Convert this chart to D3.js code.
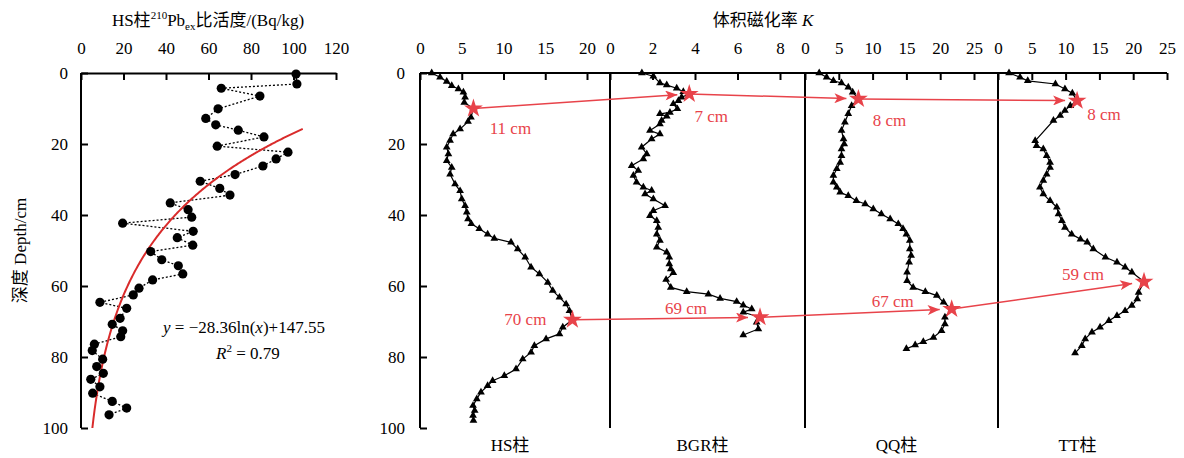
<!DOCTYPE html>
<html>
<head>
<meta charset="utf-8">
<script src="https://cdn.jsdelivr.net/npm/d3@7"></script>
<style>
  body { margin: 0; background: #fff; }
  text { font-family: "Liberation Serif", "Times New Roman", "Noto Sans CJK SC", serif; fill: #000; }
</style>
</head>
<body>
<svg id="chart" width="1184" height="458"></svg>
<script>
// ---- 210Pb excess activity, HS core ----
const pbDepth = [0.3, 3.1, 4.3, 6.5, 10.1, 12.8, 14.6, 16.1, 18.0, 20.6, 22.3, 24.2, 26.2, 28.6, 30.5, 32.5,
  34.4, 36.6, 38.5, 40.6, 42.3, 44.6, 46.4, 48.5, 50.3, 52.6, 54.3, 56.6, 58.3, 60.6, 62.5, 64.6, 66.3,
  69.1, 70.8, 72.6, 74.3, 76.4, 78.2, 80.6, 82.7, 84.6, 86.3, 88.4, 90.2, 92.5, 94.4, 96.3];
const pbValue = [101.2, 101.6, 66.0, 84.2, 64.5, 58.7, 63.4, 74.0, 86.1, 64.1, 97.4, 91.8, 85.6, 72.5, 56.1, 65.3,
  70.1, 42.0, 50.4, 52.1, 19.6, 52.8, 45.3, 52.6, 32.8, 38.0, 45.8, 47.9, 33.7, 27.3, 24.6, 8.9, 21.5,
  18.4, 14.7, 19.6, 18.7, 6.3, 5.3, 10.2, 7.4, 10.5, 4.6, 8.9, 5.5, 14.7, 21.5, 13.2];
const pbTicks = [0, 20, 40, 60, 80, 100, 120];
const depthTicks = [0, 20, 40, 60, 80, 100];
// fitted curve y = a ln(x) + b
const fitA = -28.36, fitB = 147.55;

// ---- volume magnetic susceptibility K ----
const hsDepth = [0, 1.2, 2.4, 3.6, 4.5, 5.4, 6.8, 8.3, 10, 12.5, 13.7, 15.8, 17.2, 19, 20.9, 22.8, 24.7, 26.6,
  28.5, 31.3, 33.2, 35.5, 37.4, 39.2, 41.1, 42.5, 43.9, 45.4, 46.6, 47.7, 49.6, 51.9, 54.7, 56.6, 59, 61.3,
  63.2, 65.1, 67, 69.5, 71.6, 73.5, 74.9, 76.8, 78.7, 80.6, 83.4, 85.3, 86.7, 88.1, 89.9, 91.8, 93.7, 95.1,
  96.5, 97.9];
const hsK = [1.4, 2.4, 3.2, 3.8, 4.6, 5.2, 5.4, 5.3, 6.4, 6.1, 5.75, 4.8, 3.97, 3.6, 3.2, 3.4, 3.2, 3.8,
  3.6, 4.2, 4.8, 5.0, 5.4, 5.6, 5.75, 6.15, 7.1, 8.1, 8.9, 10.9, 11.7, 12.6, 13.3, 14.3, 15.3, 15.9,
  16.7, 17.5, 17.9, 18.25, 17.1, 16.7, 15.1, 13.7, 13.3, 12.3, 11.5, 10.1, 8.7, 8.1, 7.3, 6.8, 6.35, 6.55,
  6.35, 6.4];

const bgrDepth = [0, 0.9, 2.8, 3.4, 4.3, 5.3, 5.9, 6.8, 7.8, 8.7, 10.1, 11.1, 11.5, 12.2, 13.4, 14.4, 16.2,
  17.2, 18.6, 20.9, 22.8, 24.2, 26.1, 27.5, 28.9, 30.8, 32.2, 33.1, 34.1, 35.5, 37.4, 38.8, 40.2, 41.6,
  43.5, 45.4, 47.2, 49.1, 50.5, 51.9, 53.8, 55.2, 56.3, 58.2, 60.4, 61.6, 62.3, 63.5, 64.4, 65.4, 66.5,
  67.4, 68.8, 70.2, 72.1, 73.8];
const bgrK = [1.5, 2.04, 2.35, 2.67, 3.14, 3.45, 3.73, 3.37, 3.22, 2.98, 3.17, 2.82, 2.35, 2.67, 2.43, 2.35, 1.88,
  2.35, 1.96, 1.49, 1.73, 1.57, 1.02, 1.33, 1.1, 1.25, 1.57, 1.96, 1.65, 2.04, 2.59, 2.04, 1.88, 2.2,
  2.27, 2.2, 2.35, 2.2, 2.67, 2.79, 2.79, 2.86, 2.98, 2.64, 2.86, 3.61, 4.63, 5.18, 5.96, 6.27, 6.67,
  6.27, 7.06, 6.9, 6.98, 6.27];

const qqDepth = [0, 1.2, 2.2, 2.8, 4.0, 5.4, 7.3, 9.2, 11.5, 13.9, 16.2, 18.6, 20, 21.4, 23.3, 25.2, 27, 28.9,
  30.8, 32.2, 33.6, 34.6, 36, 36.9, 38.3, 39.7, 41.1, 42.5, 43.9, 45.4, 47.2, 49.6, 51.4, 53.3, 56.1, 58.5,
  60.4, 61.6, 62.7, 64.6, 66.5, 68.8, 70.7, 72.6, 74.5, 75.7, 76.6, 77.7];
const qqK = [2.1, 3.2, 4.2, 5.4, 6.4, 7.05, 7.9, 6.9, 6.4, 5.9, 5.4, 5.7, 5.8, 5.4, 5.4, 5.2, 4.7, 4.2,
  4.2, 4.7, 5.2, 6.4, 7.6, 8.9, 10.1, 11.3, 12.6, 13.8, 14.5, 15.0, 15.5, 15.5, 15.7, 15.4, 15.1, 15.1,
  16.0, 17.8, 19.5, 20.5, 21.7, 20.7, 20.7, 20.2, 19.0, 17.5, 16.3, 15.0];

const ttDepth = [0, 1.2, 2.2, 3.1, 4.5, 5.7, 7.8, 9.2, 10.6, 12, 13.4, 19.1, 20.5, 21.4, 23.3, 25.2, 26.6,
  28.5, 30.3, 32.2, 34.1, 36, 37.8, 39.7, 41.6, 43.5, 45.4, 46.8, 47.7, 49.6, 51.9, 53.3, 54.7, 56.1,
  58.8, 61.8, 63.7, 65.5, 67, 68.4, 69.8, 71.6, 73, 74.9, 76.8, 78.9];
const ttK = [1.63, 3.26, 4.4, 8.5, 9.9, 11.0, 11.7, 10.7, 9.9, 9.2, 8.2, 5.5, 5.7, 6.7, 7.2, 7.7, 7.7,
  7.2, 6.7, 6.2, 6.7, 7.7, 8.7, 8.95, 9.45, 9.9, 10.9, 12.2, 13.2, 14.1, 15.9, 17.6, 18.8, 19.8,
  21.6, 20.8, 20.6, 19.8, 18.8, 17.6, 16.4, 15.1, 13.9, 12.9, 12.4, 11.4];

const coreNames = ['HS柱', 'BGR柱', 'QQ柱', 'TT柱'];
const coreTicks = [[0, 5, 10, 15, 20], [0, 2, 4, 6, 8], [0, 5, 10, 15, 20, 25], [0, 5, 10, 15, 20, 25]];

// marker layers (stars) correlated between cores
const upperDepth = [10, 5.9, 7.3, 7.8];
const upperK = [6.4, 3.73, 7.9, 11.7];
const upperLabel = ['11 cm', '7 cm', '8 cm', '8 cm'];
const lowerDepth = [69.5, 68.8, 66.5, 58.8];
const lowerK = [18.25, 7.06, 21.7, 21.6];
const lowerLabel = ['70 cm', '69 cm', '67 cm', '59 cm'];

// ---- drawing ----
const svg = d3.select('#chart');
const red = '#e8434a';
const yTop = 73, yBottom = 428;
const y = d3.scaleLinear().domain([0, 100]).range([yTop, yBottom]);

// arrow head
svg.append('defs').append('marker')
  .attr('id', 'arrow')
  .attr('viewBox', '0 0 12 10')
  .attr('refX', 12).attr('refY', 5)
  .attr('markerWidth', 14).attr('markerHeight', 10)
  .attr('markerUnits', 'userSpaceOnUse')
  .attr('orient', 'auto')
  .append('path')
  .attr('d', 'M0,0 L12,5 L0,10 L3,5 Z')
  .attr('fill', red);

const styleAxis = (g) => {
  g.selectAll('path.domain').attr('stroke', '#000').attr('stroke-width', 2);
  g.selectAll('.tick line').attr('stroke', '#000').attr('stroke-width', 2);
  g.selectAll('.tick text')
    .style('font-family', '"Liberation Serif", "Times New Roman", serif')
    .style('font-size', '17px')
    .attr('fill', '#000');
};

// ===== left panel: 210Pb =====
const xPb = d3.scaleLinear().domain([0, 120]).range([81, 336]);

svg.append('g')
  .attr('transform', `translate(0,${yTop})`)
  .call(d3.axisTop(xPb).tickValues(pbTicks).tickSize(-7).tickSizeOuter(0).tickPadding(19))
  .call(styleAxis);

svg.append('g')
  .attr('transform', `translate(${xPb(0)},0)`)
  .call(d3.axisLeft(y).tickValues(depthTicks).tickSize(-7).tickSizeOuter(0).tickPadding(13))
  .call(styleAxis)
  .call((g) => g.select('path.domain').attr('d', `M0,${yTop}V${yBottom}`));

// dotted connecting line
const pbPoints = pbDepth.map((d, i) => ({ d, v: pbValue[i] }));
svg.append('path')
  .datum(pbPoints)
  .attr('fill', 'none')
  .attr('stroke', '#000')
  .attr('stroke-width', 1.3)
  .attr('stroke-dasharray', '2,2')
  .attr('d', d3.line().x((p) => xPb(p.v)).y((p) => y(p.d)));

// fitted curve
const fitX = d3.range(Math.exp((100 - fitB) / fitA), 104.5, 0.5);
svg.append('path')
  .datum(fitX)
  .attr('fill', 'none')
  .attr('stroke', '#d92b2b')
  .attr('stroke-width', 2)
  .attr('d', d3.line().x((v) => xPb(v)).y((v) => y(fitA * Math.log(v) + fitB)));

svg.append('g')
  .selectAll('circle')
  .data(pbPoints)
  .join('circle')
  .attr('cx', (p) => xPb(p.v))
  .attr('cy', (p) => y(p.d))
  .attr('r', 4.6)
  .attr('fill', '#000');

// title
const t1 = svg.append('text').attr('x', 208).attr('y', 26).attr('text-anchor', 'middle').style('font-size', '17px');
t1.append('tspan').text('HS柱');
t1.append('tspan').attr('dy', -7).style('font-size', '11px').text('210');
t1.append('tspan').attr('dy', 7).text('Pb');
t1.append('tspan').attr('dy', 4).style('font-size', '11px').text('ex');
t1.append('tspan').attr('dy', -4).text('比活度/(Bq/kg)');

// equation
const eq = svg.append('text').attr('x', 163).attr('y', 333).style('font-size', '17px');
eq.append('tspan').style('font-style', 'italic').text('y');
eq.append('tspan').text(' = −28.36ln(');
eq.append('tspan').style('font-style', 'italic').text('x');
eq.append('tspan').text(')+147.55');
const r2 = svg.append('text').attr('x', 216).attr('y', 359).style('font-size', '17px');
r2.append('tspan').style('font-style', 'italic').text('R');
r2.append('tspan').attr('dy', -7).style('font-size', '11px').text('2');
r2.append('tspan').attr('dy', 7).text(' = 0.79');

// y title
svg.append('text')
  .attr('transform', `translate(26,${(yTop + yBottom) / 2}) rotate(-90)`)
  .attr('text-anchor', 'middle')
  .style('font-size', '17px')
  .text('深度 Depth/cm');

// ===== right panels: K =====
const panelLeft = [420, 610, 805, 998];
const panelTickEnd = [587, 780, 974, 1167];
const panelRight = [610, 805, 998, null];
const kDepths = [hsDepth, bgrDepth, qqDepth, ttDepth];
const kValues = [hsK, bgrK, qqK, ttK];

const xK = coreTicks.map((t, i) =>
  d3.scaleLinear().domain([0, t[t.length - 1]]).range([panelLeft[i], panelTickEnd[i]]));

// right-hand depth axis
svg.append('g')
  .attr('transform', `translate(${panelLeft[0]},0)`)
  .call(d3.axisLeft(y).tickValues(depthTicks).tickSize(-7).tickSizeOuter(0).tickPadding(15))
  .call(styleAxis)
  .call((g) => g.select('path.domain').attr('d', `M0,${yTop}V${yBottom}`));

coreNames.forEach((name, i) => {
  const x = xK[i];
  const right = panelRight[i] === null ? panelTickEnd[i] : panelRight[i];
  svg.append('g')
    .attr('transform', `translate(0,${yTop})`)
    .call(d3.axisTop(x).tickValues(coreTicks[i]).tickSize(-7).tickSizeOuter(0).tickPadding(19))
    .call(styleAxis)
    .call((g) => g.select('path.domain').attr('d', `M${panelLeft[i]},0H${right}`));

  if (i > 0) {
    svg.append('line')
      .attr('x1', panelLeft[i]).attr('x2', panelLeft[i])
      .attr('y1', yTop).attr('y2', yBottom)
      .attr('stroke', '#000').attr('stroke-width', 2);
  }

  const pts = kDepths[i].map((d, j) => ({ d, k: kValues[i][j] }));
  svg.append('path')
    .datum(pts)
    .attr('fill', 'none')
    .attr('stroke', '#000')
    .attr('stroke-width', 1.2)
    .attr('d', d3.line().x((p) => x(p.k)).y((p) => y(p.d)));

  svg.append('g')
    .selectAll('path')
    .data(pts)
    .join('path')
    .attr('transform', (p) => `translate(${x(p.k)},${y(p.d)})`)
    .attr('d', d3.symbol(d3.symbolTriangle, 26))
    .attr('fill', '#000');

  svg.append('text')
    .attr('x', (panelLeft[i] + right) / 2 - 5)
    .attr('y', 451)
    .attr('text-anchor', 'middle')
    .style('font-size', '17px')
    .text(name);
});

// 体积磁化率 K
const t2 = svg.append('text').attr('x', 763).attr('y', 26).attr('text-anchor', 'middle').style('font-size', '17px');
t2.append('tspan').text('体积磁化率 ');
t2.append('tspan').style('font-style', 'italic').text('K');

// correlation arrows + stars
const drawLayer = (depths, ks, labels, offsets) => {
  const pos = depths.map((d, i) => [xK[i](ks[i]), y(d)]);
  for (let i = 0; i < pos.length - 1; i++) {
    const [x1, y1] = pos[i];
    const [x2, y2] = pos[i + 1];
    const len = Math.hypot(x2 - x1, y2 - y1);
    const s = (len - 12) / len;
    svg.append('line')
      .attr('x1', x1).attr('y1', y1)
      .attr('x2', x1 + (x2 - x1) * s).attr('y2', y1 + (y2 - y1) * s)
      .attr('stroke', red).attr('stroke-width', 1.5)
      .attr('marker-end', 'url(#arrow)');
  }
  pos.forEach(([px, py], i) => {
    svg.append('path')
      .attr('transform', `translate(${px},${py})`)
      .attr('d', d3.symbol(d3.symbolStar, 110))
      .attr('fill', red);
    svg.append('text')
      .attr('x', px + offsets[i][0]).attr('y', py + offsets[i][1])
      .attr('text-anchor', 'middle')
      .style('font-size', '17px')
      .style('fill', red)
      .text(labels[i]);
  });
};

drawLayer(upperDepth, upperK, upperLabel, [[37, 25], [22, 28], [31, 27], [27, 19]]);
drawLayer(lowerDepth, lowerK, lowerLabel, [[-47, 5], [-74, -3], [-59, -2], [-61, -2]]);
</script>
</body>
</html>
